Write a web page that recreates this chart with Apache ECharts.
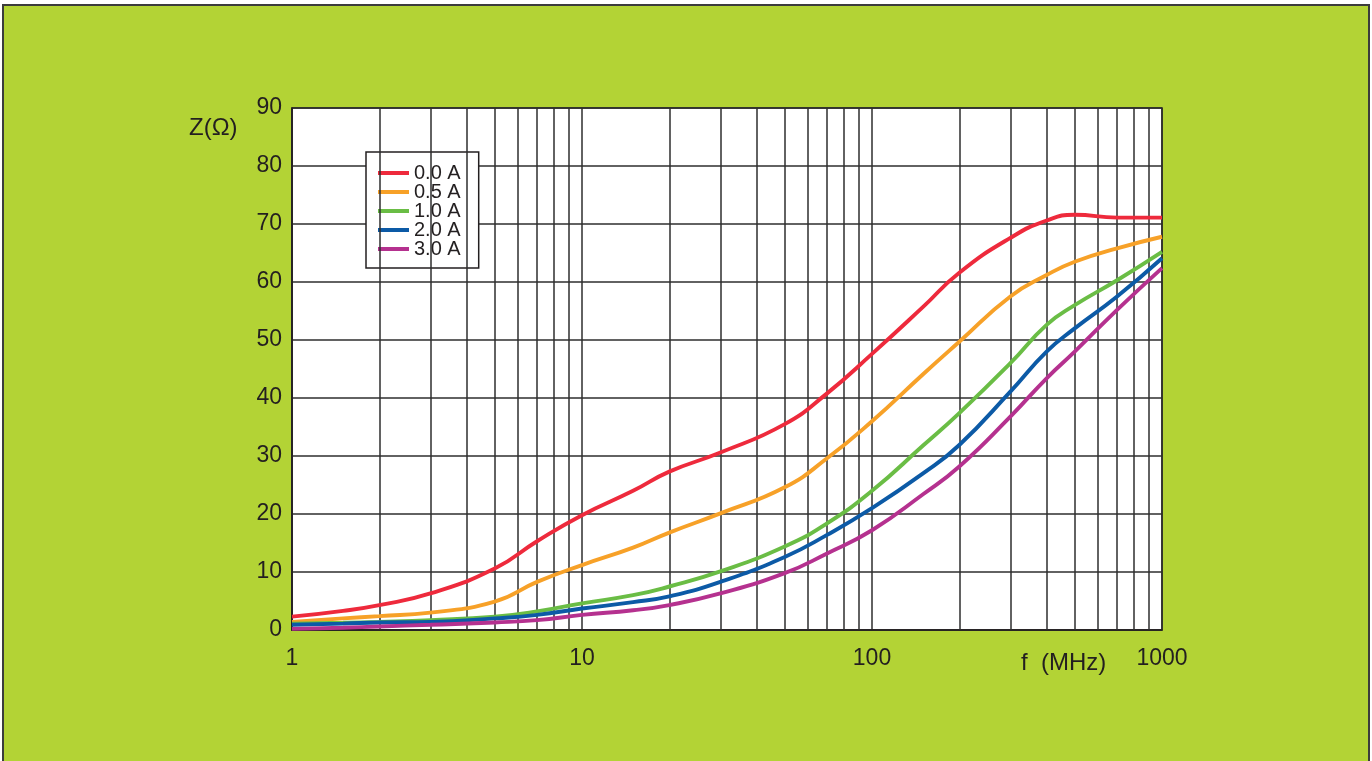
<!DOCTYPE html>
<html>
<head>
<meta charset="utf-8">
<script src="https://cdn.jsdelivr.net/npm/echarts@6/dist/echarts.min.js"></script>
<style>
  html, body { margin: 0; padding: 0; background: #ffffff; width: 1372px; height: 761px; overflow: hidden; }
  #frame { position: absolute; left: 2px; top: 4px; width: 1368px; height: 800px; box-sizing: border-box;
           border: 2px solid #3c3c3c; border-bottom: none; background: #b3d335; }
  #chart { position: absolute; left: 0; top: 0; width: 1372px; height: 761px; }
</style>
</head>
<body>
<div id="frame"></div>
<div id="chart"></div>
<script>
// Frequency (MHz)
const freq = [1, 1.5, 2, 3, 5, 7, 10, 15, 20, 30, 50, 70, 100, 150, 200, 300, 400, 500, 700, 1000];
// Impedance Z (Ohm) per bias current
const z00 = [2.3, 3.3, 4.3, 6.3, 10.6, 15.3, 19.8, 24.0, 27.3, 30.6, 35.5, 40.8, 47.6, 55.7, 61.6, 67.6, 70.6, 71.6, 71.1, 71.1];
const z05 = [1.4, 2.0, 2.4, 3.0, 4.9, 8.3, 11.2, 14.2, 16.8, 20.1, 24.6, 29.6, 36.0, 44.1, 49.7, 57.5, 61.2, 63.5, 65.8, 67.8];
const z10 = [1.1, 1.25, 1.4, 1.7, 2.3, 3.2, 4.6, 6.0, 7.5, 10.1, 14.4, 18.4, 24.0, 31.8, 37.4, 46.0, 52.6, 56.0, 60.3, 65.2];
const z20 = [0.9, 1.1, 1.3, 1.4, 2.0, 2.6, 3.7, 4.8, 5.8, 8.3, 12.6, 16.4, 21.0, 27.0, 31.9, 41.1, 48.0, 52.0, 57.5, 64.1];
const z30 = [0.2, 0.4, 0.6, 0.9, 1.3, 1.7, 2.6, 3.4, 4.3, 6.3, 9.8, 13.2, 17.2, 23.4, 28.2, 36.8, 43.4, 48.0, 55.2, 62.4];
const seriesNames = ['0.0 A', '0.5 A', '1.0 A', '2.0 A', '3.0 A'];
const seriesColors = ['#ee2a3c', '#f7a128', '#6abd45', '#0c5aa6', '#b5318f'];
// Minor vertical grid lines (log decades)
const minorGrid = [2, 3, 4, 5, 6, 7, 8, 9, 20, 30, 40, 50, 60, 70, 80, 90, 200, 300, 400, 500, 600, 700, 800, 900];
const yMin = 0, yMax = 90, yStep = 10;
const xMin = 1, xMax = 1000;

const FONT = '"Liberation Sans", Arial, Helvetica, sans-serif';
const TXT = '#231f20';
const GRIDC = '#2e2e2e';

const allZ = [z00, z05, z10, z20, z30];
const curves = allZ.map((zs, i) => ({
  name: seriesNames[i],
  type: 'line',
  smooth: 0.5,
  showSymbol: false,
  symbol: 'none',
  z: 5,
  color: seriesColors[i],
  lineStyle: { width: 3.9, color: seriesColors[i] },
  data: freq.map((f, k) => [f, zs[k]])
}));

const gridSeries = {
  name: '_grid',
  type: 'line',
  z: 1,
  symbol: 'none',
  silent: true,
  lineStyle: { opacity: 0 },
  data: [[1, 0]],
  markLine: {
    silent: true,
    symbol: ['none', 'none'],
    label: { show: false },
    lineStyle: { color: GRIDC, width: 1.5, type: 'solid' },
    emphasis: { disabled: true },
    animation: false,
    data: minorGrid.map(v => ({ xAxis: v }))
  }
};

const chart = echarts.init(document.getElementById('chart'), null, { renderer: 'canvas' });
chart.setOption({
  animation: false,
  backgroundColor: 'transparent',
  textStyle: { fontFamily: FONT },
  grid: {
    left: 292, right: 210, top: 108, bottom: 131,
    show: true, backgroundColor: '#ffffff',
    borderColor: TXT, borderWidth: 1.5
  },
  xAxis: {
    type: 'log', logBase: 10, min: xMin, max: xMax,
    axisLine: { show: true, lineStyle: { color: TXT, width: 1.5 } },
    axisTick: { show: false },
    axisLabel: { fontSize: 23, color: TXT, margin: 17, fontFamily: FONT, formatter: v => String(Math.round(v)) },
    splitLine: { show: true, lineStyle: { color: GRIDC, width: 1.5 } },
    minorTick: { show: false }, minorSplitLine: { show: false }
  },
  yAxis: {
    type: 'value', min: yMin, max: yMax, interval: yStep,
    axisLine: { show: true, lineStyle: { color: TXT, width: 1.5 } },
    axisTick: { show: false },
    axisLabel: { fontSize: 23, color: TXT, margin: 10, fontFamily: FONT },
    splitLine: { show: true, lineStyle: { color: GRIDC, width: 1.5 } }
  },
  legend: {
    data: seriesNames,
    orient: 'vertical',
    left: 366, top: 152,
    padding: [11, 18, 9, 12],
    itemGap: -1,
    itemWidth: 31, itemHeight: 4,
    icon: 'rect',
    backgroundColor: '#ffffff',
    borderColor: TXT, borderWidth: 1.5, borderRadius: 0,
    selectedMode: false,
    textStyle: { fontSize: 20, color: TXT, fontFamily: FONT, lineHeight: 20 }
  },
  graphic: [
    { type: 'text', left: 189, top: 116, silent: true,
      style: { text: 'Z(Ω)', font: '24px ' + FONT, fill: TXT } },
    { type: 'text', left: 1021, top: 651, silent: true,
      style: { text: 'f  (MHz)', font: '24px ' + FONT, fill: TXT } }
  ],
  series: [gridSeries].concat(curves)
});
</script>
</body>
</html>
